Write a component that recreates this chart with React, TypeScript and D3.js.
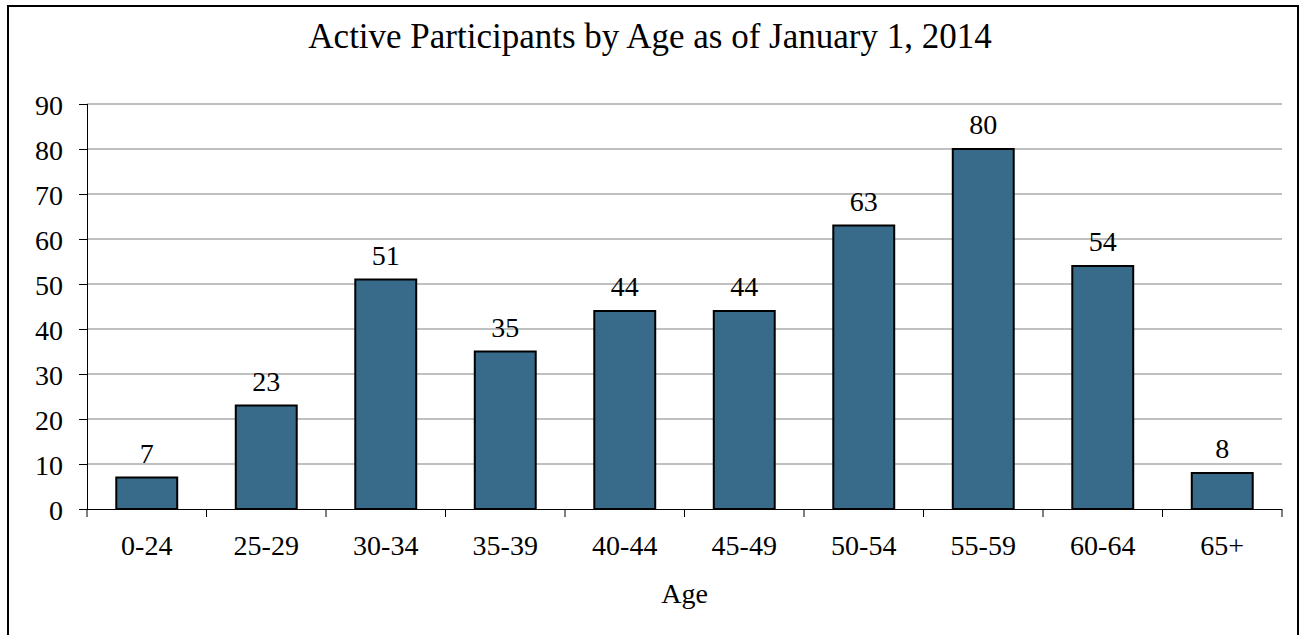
import React, { useEffect, useRef } from "react";
import * as d3 from "d3";

const ageGroups = ["0-24", "25-29", "30-34", "35-39", "40-44", "45-49", "50-54", "55-59", "60-64", "65+"];
const participants = [7, 23, 51, 35, 44, 44, 63, 80, 54, 8];
const yTicks = [0, 10, 20, 30, 40, 50, 60, 70, 80, 90];

const chartTitle = "Active Participants by Age as of January 1, 2014";
const xTitle = "Age";

const FONT = "Liberation Serif, Times New Roman, DejaVu Serif, serif";

export default function App() {
  const svgRef = useRef<SVGSVGElement | null>(null);

  useEffect(() => {
    if (!svgRef.current) return;
    const svg = d3.select(svgRef.current);
    svg.selectAll("*").remove();

    const width = 1303;
    const margin = { top: 104, right: 21, left: 87 };
    const plotW = width - margin.left - margin.right;
    const plotH = 509 - margin.top;

    // outer frame
    svg
      .append("rect")
      .attr("x", 8)
      .attr("y", 6)
      .attr("width", 1290)
      .attr("height", 640)
      .attr("fill", "#fff")
      .attr("stroke", "#000")
      .attr("stroke-width", 2);

    const x = d3.scaleBand().domain(ageGroups).range([0, plotW]).paddingInner(0.49).paddingOuter(0.245);
    const band = d3.scaleBand().domain(ageGroups).range([0, plotW]);
    const y = d3.scaleLinear().domain([0, 90]).range([plotH, 0]);

    const g = svg.append("g").attr("transform", `translate(${margin.left},${margin.top})`);

    // grid lines
    g.selectAll(".grid")
      .data(yTicks.filter((t) => t > 0))
      .enter()
      .append("line")
      .attr("x1", 0)
      .attr("x2", plotW)
      .attr("y1", (d) => y(d))
      .attr("y2", (d) => y(d))
      .attr("stroke", "#c0c0c0")
      .attr("stroke-width", 2);

    // y axis
    const yAxis = g
      .append("g")
      .call(d3.axisLeft(y).tickValues(yTicks).tickSize(8).tickPadding(16));
    yAxis.attr("font-family", null).attr("font-size", null);
    yAxis.select(".domain").attr("stroke", "#000").attr("d", `M0.5,0V${plotH}`);
    yAxis.selectAll(".tick line").attr("stroke", "#000");
    yAxis
      .selectAll("text")
      .style("font-family", FONT)
      .style("font-size", "28px")
      .attr("fill", "#000")
      .attr("dy", "0.36em");

    // bars
    g.selectAll(".bar")
      .data(participants)
      .enter()
      .append("rect")
      .attr("x", (_, i) => x(ageGroups[i])!)
      .attr("y", (d) => y(d))
      .attr("width", x.bandwidth())
      .attr("height", (d) => plotH - y(d))
      .attr("fill", "#386a89")
      .attr("stroke", "#000")
      .attr("stroke-width", 2);

    // value labels
    g.selectAll(".val")
      .data(participants)
      .enter()
      .append("text")
      .attr("x", (_, i) => x(ageGroups[i])! + x.bandwidth() / 2)
      .attr("y", (d) => y(d) - 15)
      .attr("text-anchor", "middle")
      .style("font-family", FONT)
      .style("font-size", "28px")
      .attr("fill", "#000")
      .text((d) => d);

    // x axis
    const xAxis = g
      .append("g")
      .attr("transform", `translate(0,${plotH})`)
      .call(d3.axisBottom(band).tickSize(0).tickPadding(0));
    xAxis.attr("font-family", null).attr("font-size", null);
    xAxis.select(".domain").attr("stroke", "#000").attr("d", `M0,0.5H${plotW}`);
    xAxis
      .selectAll("text")
      .style("font-family", FONT)
      .style("font-size", "28px")
      .attr("fill", "#000")
      .attr("dy", null)
      .attr("y", 46);

    // category separator ticks
    g.selectAll(".xtick")
      .data(ageGroups.concat(["end"]))
      .enter()
      .append("line")
      .attr("x1", (_, i) => (i < ageGroups.length ? band(ageGroups[i])! : plotW))
      .attr("x2", (_, i) => (i < ageGroups.length ? band(ageGroups[i])! : plotW))
      .attr("y1", plotH)
      .attr("y2", plotH + 8)
      .attr("stroke", "#000");

    // axis title
    svg
      .append("text")
      .attr("x", margin.left + plotW / 2)
      .attr("y", 603)
      .attr("text-anchor", "middle")
      .style("font-family", FONT)
      .style("font-size", "28px")
      .attr("fill", "#000")
      .text(xTitle);

    // chart title
    svg
      .append("text")
      .attr("x", 650)
      .attr("y", 48)
      .attr("text-anchor", "middle")
      .style("font-family", FONT)
      .style("font-size", "35px")
      .attr("fill", "#000")
      .text(chartTitle);
  }, []);

  return (
    <div style={{ position: "absolute", left: 0, top: 0 }}>
      <svg ref={svgRef} width={1303} height={635} style={{ display: "block" }} />
    </div>
  );
}
